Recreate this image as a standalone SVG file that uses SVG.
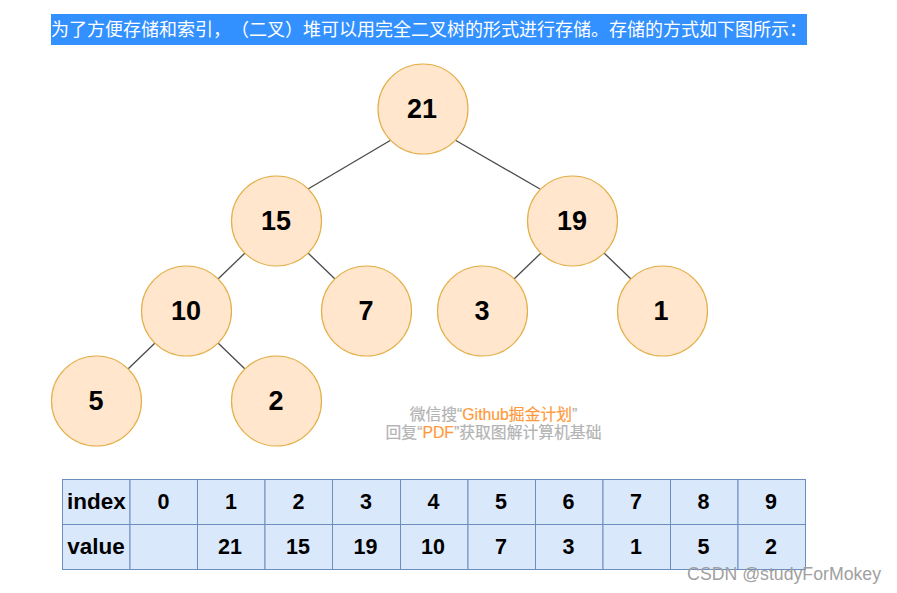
<svg xmlns="http://www.w3.org/2000/svg" width="897" height="593" viewBox="0 0 897 593">
<style>
text{font-family:"Liberation Sans","Noto Sans CJK SC",sans-serif}
.n circle{fill:#ffe6cc;stroke:#e3b04a;stroke-width:1.2}
.n text{font-size:27px;font-weight:bold;text-anchor:middle;fill:#000}
.c line{stroke:#4a4a4a;stroke-width:1.3}
.t rect{fill:#dae8fc;stroke:#6c8ebf;stroke-width:1}
.t text{font-size:21.5px;font-weight:bold;text-anchor:middle;fill:#000}
.t .h{font-size:22.500px}
.w{font-size:15.800px;text-anchor:middle;fill:#b3b3b3;stroke:#b3b3b3;stroke-width:.2}
.o{fill:#ff9a3c;stroke:#ff9a3c}
</style>
<rect width="897" height="593" fill="#fff"/>
<g id="banner"><rect x="51" y="14" width="756" height="31" fill="#3390ff"/>
<text x="51" y="36" font-size="18" fill="#fff" style="font-family:'Noto Sans CJK SC',sans-serif;text-spacing-trim:space-all;font-feature-settings:'chws' 0,'halt' 0;font-kerning:none">为了方便存储和索引，（二叉）堆可以用完全二叉树的形式进行存储。存储的方式如下图所示：</text></g>
<g id="connectors" class="c">
<line x1="391" y1="140" x2="308" y2="189"/>
<line x1="455" y1="140" x2="540" y2="189"/>
<line x1="245" y1="253" x2="218" y2="279"/>
<line x1="308" y1="253" x2="335" y2="279"/>
<line x1="541" y1="253" x2="514" y2="279"/>
<line x1="604" y1="253" x2="631" y2="279"/>
<line x1="155" y1="343" x2="128" y2="369"/>
<line x1="218" y1="343" x2="245" y2="369"/>
</g>
<g id="n21" class="n"><circle cx="423" cy="109" r="45"/><text x="422" y="118">21</text></g>
<g id="n15" class="n"><circle cx="276.500" cy="221" r="45"/><text x="276" y="230">15</text></g>
<g id="n19" class="n"><circle cx="572.500" cy="221" r="45"/><text x="572" y="230">19</text></g>
<g id="n10" class="n"><circle cx="186.500" cy="311" r="45"/><text x="186" y="320">10</text></g>
<g id="n7" class="n"><circle cx="366.500" cy="311" r="45"/><text x="366" y="320">7</text></g>
<g id="n3" class="n"><circle cx="482.500" cy="311" r="45"/><text x="482" y="320">3</text></g>
<g id="n1" class="n"><circle cx="662.500" cy="311" r="45"/><text x="661" y="320">1</text></g>
<g id="n5" class="n"><circle cx="96.500" cy="401" r="45"/><text x="96" y="410">5</text></g>
<g id="n2" class="n"><circle cx="276.500" cy="401" r="45"/><text x="276" y="410">2</text></g>
<g id="watermark">
<text class="w" x="493.500" y="420">微信搜“<tspan class="o">Github掘金计划</tspan>”</text>
<text class="w" x="493.500" y="438">回复“<tspan class="o">PDF</tspan>”获取图解计算机基础</text>
</g>
<g id="table" class="t">
<rect x="62.500" y="479.500" width="67.500" height="45"/><rect x="130" y="479.500" width="67.500" height="45"/><rect x="197.500" y="479.500" width="67.500" height="45"/><rect x="265" y="479.500" width="67.500" height="45"/><rect x="332.500" y="479.500" width="68" height="45"/><rect x="400.500" y="479.500" width="67.500" height="45"/><rect x="468" y="479.500" width="67.500" height="45"/><rect x="535.500" y="479.500" width="67.500" height="45"/><rect x="603" y="479.500" width="67.500" height="45"/><rect x="670.500" y="479.500" width="67.500" height="45"/><rect x="738" y="479.500" width="67.500" height="45"/>
<rect x="62.500" y="524.500" width="67.500" height="45"/><rect x="130" y="524.500" width="67.500" height="45"/><rect x="197.500" y="524.500" width="67.500" height="45"/><rect x="265" y="524.500" width="67.500" height="45"/><rect x="332.500" y="524.500" width="68" height="45"/><rect x="400.500" y="524.500" width="67.500" height="45"/><rect x="468" y="524.500" width="67.500" height="45"/><rect x="535.500" y="524.500" width="67.500" height="45"/><rect x="603" y="524.500" width="67.500" height="45"/><rect x="670.500" y="524.500" width="67.500" height="45"/><rect x="738" y="524.500" width="67.500" height="45"/>
<text class="h" x="96.500" y="509">index</text><text x="163.500" y="509">0</text><text x="231" y="509">1</text><text x="298.500" y="509">2</text><text x="366" y="509">3</text><text x="433.500" y="509">4</text><text x="501" y="509">5</text><text x="568.500" y="509">6</text><text x="636" y="509">7</text><text x="703.500" y="509">8</text><text x="771" y="509">9</text>
<text class="h" x="96" y="554">value</text><text x="230" y="554">21</text><text x="298" y="554">15</text><text x="365.500" y="554">19</text><text x="433" y="554">10</text><text x="501" y="554">7</text><text x="568.500" y="554">3</text><text x="636" y="554">1</text><text x="703.500" y="554">5</text><text x="771" y="554">2</text>
</g>
<text id="credit" x="881" y="580" font-size="17.700" text-anchor="end" fill="#a0a0a0">CSDN @studyForMokey</text>
</svg>
